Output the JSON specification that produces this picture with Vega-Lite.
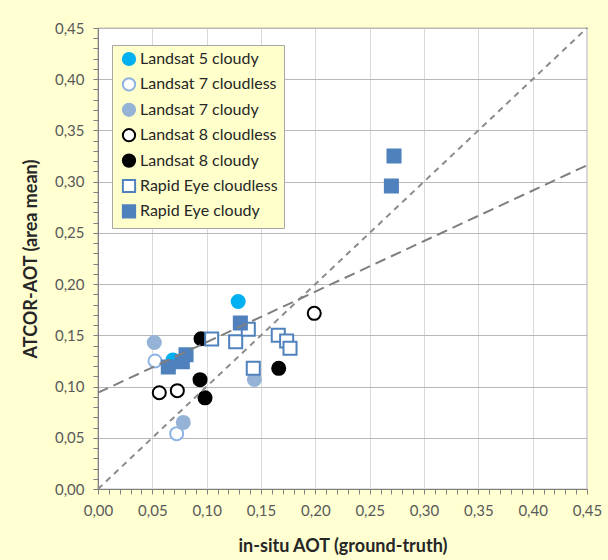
{
  "$schema": "https://vega.github.io/schema/vega-lite/v6.json",
  "width": 489,
  "height": 461,
  "autosize": {"type": "none"},
  "padding": {"left": 98, "top": 28, "right": 21, "bottom": 71},
  "background": "#FFFFD2",
  "config": {
    "view": {"stroke": "#7f7f7f", "strokeWidth": 1.2, "fill": "white"},
    "font": "Lato",
    "axis": {
      "labelFont": "Lato", "labelFontSize": 15, "labelColor": "#595959",
      "titleFont": "Lato", "titleFontSize": 18, "titleFontWeight": "bold", "titleColor": "#262626",
      "domainColor": "#7f7f7f", "tickColor": "#7f7f7f", "tickSize": 5, "labelPadding": 9,
      "labelOverlap": false, "labelFlush": false
    }
  },
  "datasets": {
    "pts": [
      {"x": 0.129, "y": 0.183, "series": "Landsat 5 cloudy"},
      {"x": 0.069, "y": 0.126, "series": "Landsat 5 cloudy"},
      {"x": 0.0525, "y": 0.125, "series": "Landsat 7 cloudless"},
      {"x": 0.0724, "y": 0.054, "series": "Landsat 7 cloudless"},
      {"x": 0.0518, "y": 0.143, "series": "Landsat 7 cloudy"},
      {"x": 0.0785, "y": 0.065, "series": "Landsat 7 cloudy"},
      {"x": 0.1439, "y": 0.107, "series": "Landsat 7 cloudy"},
      {"x": 0.0564, "y": 0.094, "series": "Landsat 8 cloudless"},
      {"x": 0.073, "y": 0.096, "series": "Landsat 8 cloudless"},
      {"x": 0.199, "y": 0.1715, "series": "Landsat 8 cloudless"},
      {"x": 0.0948, "y": 0.1467, "series": "Landsat 8 cloudy"},
      {"x": 0.0939, "y": 0.1067, "series": "Landsat 8 cloudy"},
      {"x": 0.0985, "y": 0.089, "series": "Landsat 8 cloudy"},
      {"x": 0.1663, "y": 0.1178, "series": "Landsat 8 cloudy"},
      {"x": 0.1046, "y": 0.1464, "series": "Rapid Eye cloudless"},
      {"x": 0.1267, "y": 0.1438, "series": "Rapid Eye cloudless"},
      {"x": 0.1383, "y": 0.156, "series": "Rapid Eye cloudless"},
      {"x": 0.1429, "y": 0.1178, "series": "Rapid Eye cloudless"},
      {"x": 0.1659, "y": 0.15, "series": "Rapid Eye cloudless"},
      {"x": 0.1736, "y": 0.1445, "series": "Rapid Eye cloudless"},
      {"x": 0.1767, "y": 0.1373, "series": "Rapid Eye cloudless"},
      {"x": 0.0647, "y": 0.119, "series": "Rapid Eye cloudy"},
      {"x": 0.0776, "y": 0.1243, "series": "Rapid Eye cloudy"},
      {"x": 0.081, "y": 0.131, "series": "Rapid Eye cloudy"},
      {"x": 0.131, "y": 0.162, "series": "Rapid Eye cloudy"},
      {"x": 0.2724, "y": 0.325, "series": "Rapid Eye cloudy"},
      {"x": 0.270, "y": 0.2958, "series": "Rapid Eye cloudy"}
    ],
    "oneone": [{"x": 0, "y": 0}, {"x": 0.45, "y": 0.45}],
    "reg": [{"x": 0, "y": 0.094}, {"x": 0.45, "y": 0.316}]
  },
  "encoding": {
    "x": {
      "field": "x", "type": "quantitative",
      "scale": {"domain": [0, 0.45], "nice": false},
      "axis": {
        "title": "in-situ AOT (ground-truth)",
        "values": [0,0.01,0.02,0.03,0.04,0.05,0.06,0.07,0.08,0.09,0.1,0.11,0.12,0.13,0.14,0.15,0.16,0.17,0.18,0.19,0.2,0.21,0.22,0.23,0.24,0.25,0.26,0.27,0.28,0.29,0.3,0.31,0.32,0.33,0.34,0.35,0.36,0.37,0.38,0.39,0.4,0.41,0.42,0.43,0.44,0.45],
        "labelExpr": "round(datum.value*100)%5==0 ? replace(format(datum.value,'.2f'),'.',',') : ''",
        "grid": true,
        "gridColor": "#d9d9d9",
        "gridOpacity": {"condition": {"test": "round(datum.value*100)%5==0", "value": 1}, "value": 0},
        "titlePadding": 19
      }
    },
    "y": {
      "field": "y", "type": "quantitative",
      "scale": {"domain": [0, 0.45], "nice": false},
      "axis": {
        "title": "ATCOR-AOT (area mean)",
        "values": [0,0.01,0.02,0.03,0.04,0.05,0.06,0.07,0.08,0.09,0.1,0.11,0.12,0.13,0.14,0.15,0.16,0.17,0.18,0.19,0.2,0.21,0.22,0.23,0.24,0.25,0.26,0.27,0.28,0.29,0.3,0.31,0.32,0.33,0.34,0.35,0.36,0.37,0.38,0.39,0.4,0.41,0.42,0.43,0.44,0.45],
        "labelExpr": "round(datum.value*100)%5==0 ? replace(format(datum.value,'.2f'),'.',',') : ''",
        "grid": true,
        "gridColor": "#b8b8b8",
        "gridOpacity": {"condition": {"test": "round(datum.value*100)%5==0", "value": 1}, "value": 0},
        "titlePadding": 14
      }
    }
  },
  "layer": [
    {
      "data": {"name": "pts"},
      "mark": {"type": "point", "size": 170, "strokeWidth": 2, "opacity": 1},
      "encoding": {
        "shape": {
          "field": "series", "type": "nominal",
          "scale": {
            "domain": ["Landsat 5 cloudy", "Landsat 7 cloudless", "Landsat 7 cloudy", "Landsat 8 cloudless", "Landsat 8 cloudy", "Rapid Eye cloudless", "Rapid Eye cloudy"],
            "range": ["circle", "circle", "circle", "circle", "circle", "square", "square"]
          },
          "legend": {
            "title": null, "orient": "none", "legendX": 14, "legendY": 17,
            "fillColor": "#FFFFCC", "strokeColor": "#a6a6a6", "padding": 6,
            "labelFont": "Lato", "labelFontSize": 16, "labelColor": "#262626",
            "symbolSize": 150, "symbolStrokeWidth": 2, "rowPadding": 3.4, "labelOffset": 3,
            "symbolOffset": 3
          }
        },
        "stroke": {
          "field": "series", "type": "nominal",
          "scale": {
            "domain": ["Landsat 5 cloudy", "Landsat 7 cloudless", "Landsat 7 cloudy", "Landsat 8 cloudless", "Landsat 8 cloudy", "Rapid Eye cloudless", "Rapid Eye cloudy"],
            "range": ["#00B0F0", "#8EB4E3", "#95B3D7", "#000000", "#000000", "#4F81BD", "#4F81BD"]
          }
        },
        "fill": {
          "field": "series", "type": "nominal",
          "scale": {
            "domain": ["Landsat 5 cloudy", "Landsat 7 cloudless", "Landsat 7 cloudy", "Landsat 8 cloudless", "Landsat 8 cloudy", "Rapid Eye cloudless", "Rapid Eye cloudy"],
            "range": ["#00B0F0", "#FFFFFF", "#95B3D7", "#FFFFFF", "#000000", "#FFFFFF", "#4F81BD"]
          }
        }
      }
    },
    {
      "data": {"name": "oneone"},
      "mark": {"type": "line", "color": "#8c8c8c", "strokeWidth": 2, "strokeDash": [6, 5]},
      "encoding": {}
    },
    {
      "data": {"name": "reg"},
      "mark": {"type": "line", "color": "#7f7f7f", "strokeWidth": 2, "strokeDash": [11, 6]},
      "encoding": {}
    }
  ]
}
